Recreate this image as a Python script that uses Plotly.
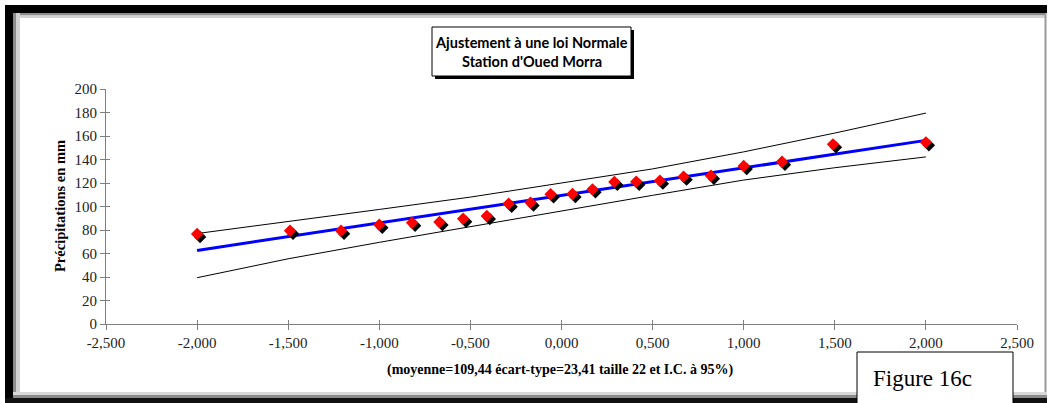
import plotly.graph_objects as go

# Normal-quantile (z) of each ranked observation and the observed rainfall (mm)
z_values = [-2.00, -1.49, -1.21, -1.00, -0.82, -0.67, -0.54, -0.41, -0.29, -0.17, -0.06,
            0.06, 0.17, 0.29, 0.41, 0.54, 0.67, 0.82, 1.00, 1.21, 1.49, 2.00]
precip_mm = [76.6, 79.4, 79.4, 84.5, 86.2, 86.8, 89.6, 91.9, 102.3, 103.3, 110.4,
             110.6, 114.6, 120.9, 121.1, 122.0, 125.4, 126.2, 134.5, 138.1, 152.9, 154.6]

# Fitted normal law parameters
mean_mm = 109.44
std_mm = 23.41
sample_size = 22

# 95 % confidence band
ci_z = [-2.0, -1.5, -1.0, -0.5, 0.0, 0.5, 1.0, 1.5, 2.0]
ci_upper = [77.0, 87.0, 97.5, 108.0, 120.0, 132.0, 146.5, 162.5, 179.5]
ci_lower = [39.4, 55.5, 69.5, 83.0, 96.5, 109.5, 122.5, 133.0, 142.2]

# Axis ticks
x_ticks = [-2.5, -2.0, -1.5, -1.0, -0.5, 0.0, 0.5, 1.0, 1.5, 2.0, 2.5]
x_tick_labels = ["-2,500", "-2,000", "-1,500", "-1,000", "-0,500", "0,000",
                 "0,500", "1,000", "1,500", "2,000", "2,500"]
y_ticks = [0, 20, 40, 60, 80, 100, 120, 140, 160, 180, 200]

W, H = 1048, 403
ML, MR, MT, MB = 106, 31, 89, 79
PW, PH = W - ML - MR, H - MT - MB
X_RANGE = (-2.5, 2.5)
Y_RANGE = (0, 200)


def px(x):
    return (x - ML) / PW


def py(y):
    return (H - MB - y) / PH


fit_z = [min(z_values), max(z_values)]
fit_y = [mean_mm + std_mm * z for z in fit_z]

# marker drop-shadow offset, 3 px right and 3 px down
dx = 3 * (X_RANGE[1] - X_RANGE[0]) / PW
dy = 3 * (Y_RANGE[1] - Y_RANGE[0]) / PH

fig = go.Figure()
fig.add_trace(go.Scatter(x=ci_z, y=ci_upper, mode="lines",
                         line=dict(color="black", width=1), hoverinfo="skip"))
fig.add_trace(go.Scatter(x=ci_z, y=ci_lower, mode="lines",
                         line=dict(color="black", width=1), hoverinfo="skip"))
fig.add_trace(go.Scatter(x=fit_z, y=fit_y, mode="lines",
                         line=dict(color="#0000FF", width=3)))
fig.add_trace(go.Scatter(x=[z + dx for z in z_values], y=[p - dy for p in precip_mm],
                         mode="markers",
                         marker=dict(symbol="diamond", size=9.5, color="black",
                                     line=dict(width=0)), hoverinfo="skip"))
fig.add_trace(go.Scatter(x=z_values, y=precip_mm, mode="markers",
                         marker=dict(symbol="diamond", size=9.5, color="#FF0000",
                                     line=dict(width=0))))
# carrier trace for the inner tick axes
fig.add_trace(go.Scatter(x=[None], y=[None], xaxis="x2", yaxis="y2",
                         mode="markers", hoverinfo="skip"))

tick_font = dict(family="Liberation Serif", size=15, color="#222222")
axis_common = dict(showgrid=False, zeroline=False, showline=True, linecolor="#7f7f7f",
                   linewidth=1, ticks="outside", ticklen=5, tickcolor="#7f7f7f",
                   tickwidth=1, tickfont=tick_font, fixedrange=True)

shapes = []


def rect(x0, y0, x1, y1, fill, line_color=None, line_width=0, layer="above"):
    shapes.append(dict(type="rect", xref="paper", yref="paper",
                       x0=px(x0), x1=px(x1), y0=py(y1), y1=py(y0),
                       fillcolor=fill, layer=layer,
                       line=dict(color=line_color or fill, width=line_width)))


# page frame: heavy black top/left edges with a soft grey inner shade
rect(5, 5, 1047, 13, "black")
rect(5, 5, 13, 403, "black")
rect(13, 13, 1045, 15.5, "#8c8c8c")
rect(13, 15.5, 1045, 18, "#d2d2d2")
rect(13, 13, 16, 398, "#8c8c8c")
rect(16, 13, 20, 398, "#d2d2d2")
rect(1044.5, 13, 1046.5, 398, "#9a9a9a")
rect(13, 392, 1047, 395, "#d8d8d8")
rect(13, 395, 1047, 398, "#8c8c8c")
rect(5, 398, 1047, 403, "#111111")

# title box with shadow
rect(435, 30, 634, 79, "black")
rect(432, 27, 631, 76, "white", "black", 1)

# figure label box
rect(857, 352, 1013, 410, "white", "black", 1)

annotations = [
    dict(text="<b>Ajustement à une loi Normale</b>", x=px(531.5), y=py(42),
         xref="paper", yref="paper", showarrow=False, xanchor="center", yanchor="middle",
         font=dict(family="Lato", size=14.5, color="black")),
    dict(text="<b>Station d'Oued Morra</b>", x=px(531.5), y=py(61),
         xref="paper", yref="paper", showarrow=False, xanchor="center", yanchor="middle",
         font=dict(family="Lato", size=14.5, color="black")),
    dict(text="<b>Précipitations en mm</b>", x=px(60), y=py(206),
         xref="paper", yref="paper", showarrow=False, xanchor="center", yanchor="middle",
         textangle=-90, font=dict(family="Liberation Serif", size=14.5, color="black")),
    dict(text=f"<b>(moyenne={str(mean_mm).replace('.', ',')} écart-type="
              f"{str(std_mm).replace('.', ',')} taille {sample_size} et I.C. à 95%)</b>",
         x=px(560), y=py(370), xref="paper", yref="paper", showarrow=False,
         xanchor="center", yanchor="middle",
         font=dict(family="Liberation Serif", size=14, color="black")),
    dict(text="Figure 16c", x=px(922), y=py(378), xref="paper", yref="paper",
         showarrow=False, xanchor="center", yanchor="middle",
         font=dict(family="Liberation Serif", size=23, color="black")),
]

fig.update_layout(
    width=W, height=H,
    margin=dict(l=ML, r=MR, t=MT, b=MB, pad=0),
    paper_bgcolor="white", plot_bgcolor="white",
    showlegend=False,
    xaxis=dict(range=list(X_RANGE), tickvals=x_ticks, ticktext=x_tick_labels,
               **axis_common),
    yaxis=dict(range=list(Y_RANGE), tickvals=y_ticks, **axis_common),
    xaxis2=dict(overlaying="x", range=list(X_RANGE), tickvals=x_ticks, ticks="inside",
                ticklen=4, tickcolor="#7f7f7f", showticklabels=False, showline=False,
                showgrid=False, zeroline=False, side="bottom", fixedrange=True),
    yaxis2=dict(overlaying="y", range=list(Y_RANGE), tickvals=y_ticks, ticks="inside",
                ticklen=4, tickcolor="#7f7f7f", showticklabels=False, showline=False,
                showgrid=False, zeroline=False, side="left", fixedrange=True),
    shapes=shapes,
    annotations=annotations,
)

fig.write_html("out.html")
